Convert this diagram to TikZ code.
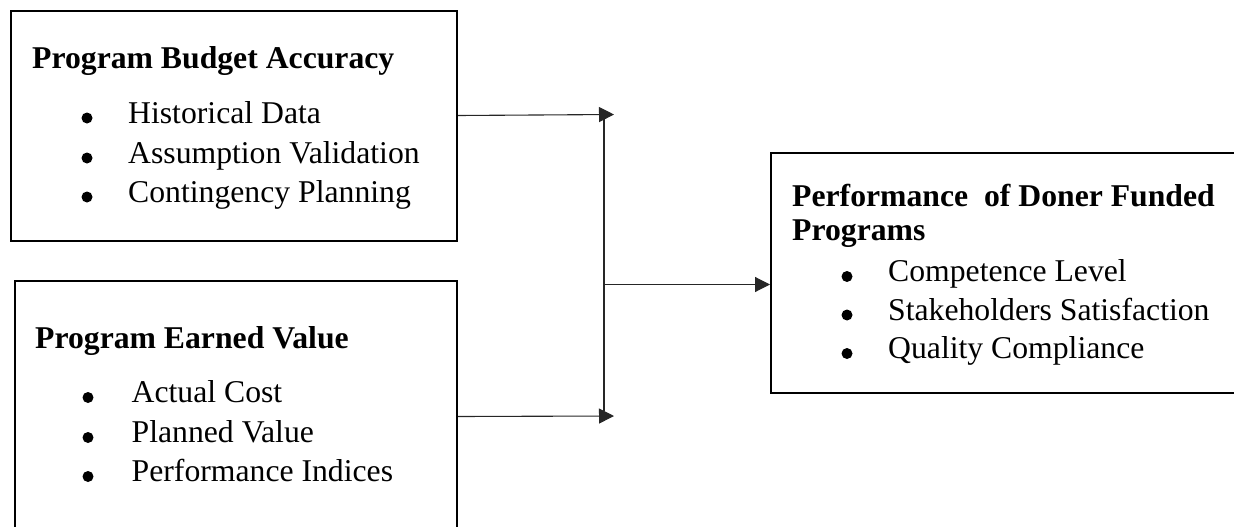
\documentclass[tikz,border=0pt]{standalone}
\usepackage{fontspec}
\setmainfont{Liberation Serif}
\usetikzlibrary{arrows.meta}
\begin{document}
\begin{tikzpicture}[x=1pt,y=-1pt,
  boxstyle/.style={draw=black, line width=2pt, inner sep=0pt, anchor=north west},
  titletext/.style={anchor=base west, inner sep=0pt, font=\fontsize{31.7}{34}\selectfont\bfseries},
  itemtext/.style={anchor=base west, inner sep=0pt, font=\fontsize{31.7}{38}\selectfont},
  conn/.style={line width=1.1pt, draw=black!85},
  arr/.style={conn, -{Triangle[length=15pt,width=15pt]}},
  dot/.style={fill=black}
]
\useasboundingbox (0,0) rectangle (1234,527);
\clip (0,0) rectangle (1234,527);

% boxes
\node[boxstyle, minimum width=446pt, minimum height=230pt] (b1) at (10,10) {};
\node[boxstyle, minimum width=442pt, minimum height=270pt] (b2) at (14,280) {};
\node[boxstyle, minimum width=490pt, minimum height=240pt] (b3) at (770,152) {};

% box 1 text
\node[titletext] (t1) at (32,68) {Program Budget Accuracy};
\node[itemtext] (i11) at (128,123) {Historical Data};
\node[itemtext] (i12) at (128,163) {Assumption Validation};
\node[itemtext] (i13) at (128,202) {Contingency Planning};
\fill[dot] (87,118) circle (5.5);
\fill[dot] (87,158) circle (5.5);
\fill[dot] (87,197) circle (5.5);

% box 2 text
\node[titletext] (t2) at (35,348) {Program Earned Value};
\node[itemtext] (i21) at (131.5,402.5) {Actual Cost};
\node[itemtext] (i22) at (131.5,442.5) {Planned Value};
\node[itemtext] (i23) at (131.5,481.5) {Performance Indices};
\fill[dot] (88,397.5) circle (5.5);
\fill[dot] (88,437.5) circle (5.5);
\fill[dot] (88,476.5) circle (5.5);

% box 3 text
\node[titletext] (t3a) at (792,206.5) {Performance\ \ of Doner Funded};
\node[titletext] (t3b) at (792,240) {Programs};
\node[itemtext] (i31) at (888,281.5) {Competence Level};
\node[itemtext] (i32) at (888,320) {Stakeholders Satisfaction};
\node[itemtext] (i33) at (888,358.5) {Quality Compliance};
\fill[dot] (847,276.5) circle (5.5);
\fill[dot] (847,315) circle (5.5);
\fill[dot] (847,353.5) circle (5.5);

% connectors
\coordinate (a1) at (614,114.5);
\coordinate (a2) at (614,416);
\coordinate (vt) at (604,117);
\coordinate (vb) at (604,411);
\coordinate (mid) at (604,284.5);
\draw[arr] (b1.east |- 0,115.5) -- (a1);
\draw[arr] (b2.east |- 0,416.5) -- (a2);
\draw[conn] (vt) -- (vb);
\draw[arr] (mid) -- (b3.west |- mid);
\end{tikzpicture}
\end{document}
